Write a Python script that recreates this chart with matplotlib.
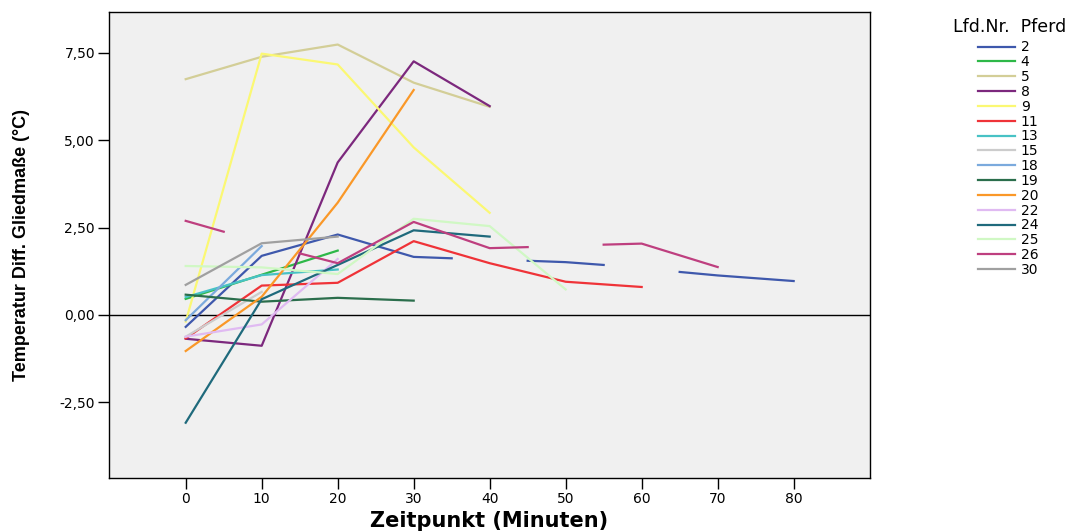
import matplotlib
matplotlib.use("Agg")
import matplotlib.pyplot as plt
import numpy as np

nan = np.nan

# Temperaturdifferenz je Pferd über die Zeit (Lücken = fehlende Messung)
horses = ["2", "4", "5", "8", "9", "11", "13", "15", "18", "19", "20", "22", "24", "25", "26", "30"]

times_2 = [0, 10, 20, 30, 35, 40, 45, 50, 55, 60, 65, 70, 80]
temp_2 = [-0.34, 1.69, 2.30, 1.66, 1.62, nan, 1.55, 1.51, 1.43, nan, 1.23, 1.13, 0.97]
times_4 = [0, 10, 20]
temp_4 = [0.46, 1.15, 1.84]
times_5 = [0, 10, 20, 30, 40]
temp_5 = [6.74, 7.38, 7.73, 6.64, 5.95]
times_8 = [0, 10, 20, 30, 40]
temp_8 = [-0.68, -0.88, 4.36, 7.25, 5.97]
times_9 = [0, 10, 20, 30, 40]
temp_9 = [-0.19, 7.47, 7.16, 4.79, 2.92]
times_11 = [0, 10, 20, 30, 40, 50, 60]
temp_11 = [-0.67, 0.84, 0.92, 2.11, 1.48, 0.95, 0.80]
times_13 = [0, 10, 20]
temp_13 = [0.51, 1.14, 1.30]
times_15 = [0, 10]
temp_15 = [-0.62, 0.66]
times_18 = [0, 10]
temp_18 = [-0.15, 1.97]
times_19 = [0, 10, 20, 30]
temp_19 = [0.58, 0.38, 0.49, 0.41]
times_20 = [0, 10, 20, 30]
temp_20 = [-1.03, 0.52, 3.21, 6.43]
times_22 = [0, 10, 20]
temp_22 = [-0.62, -0.27, 1.60]
times_24 = [0, 10, 20, 30, 40]
temp_24 = [-3.08, 0.45, 1.43, 2.42, 2.24]
times_25 = [0, 10, 20, 30, 40, 50]
temp_25 = [1.40, 1.36, 1.17, 2.75, 2.54, 0.73]
times_26 = [0, 5, 10, 15, 20, 30, 40, 45, 50, 55, 60, 70]
temp_26 = [2.69, 2.38, nan, 1.76, 1.48, 2.66, 1.91, 1.94, nan, 2.01, 2.04, 1.37]
times_30 = [0, 10, 20]
temp_30 = [0.86, 2.05, 2.24]

x_ticks = [0, 10, 20, 30, 40, 50, 60, 70, 80]
y_ticks = [-2.5, 0.0, 2.5, 5.0, 7.5]

colors = ["#3E58AC", "#2EB848", "#D3CE97", "#7C287D", "#FBF873", "#EF3338",
          "#48C2C5", "#CCCCCC", "#7BAADD", "#2B6E4C", "#FA9828", "#E0BAF2",
          "#1F6A7C", "#D0F8C4", "#BE3F7F", "#A0A0A0"]

series = [(times_2, temp_2), (times_4, temp_4), (times_5, temp_5), (times_8, temp_8),
          (times_9, temp_9), (times_11, temp_11), (times_13, temp_13), (times_15, temp_15),
          (times_18, temp_18), (times_19, temp_19), (times_20, temp_20), (times_22, temp_22),
          (times_24, temp_24), (times_25, temp_25), (times_26, temp_26), (times_30, temp_30)]

plt.rcParams['font.family'] = ['DejaVu Sans']

fig = plt.figure(figsize=(10.83, 5.31), dpi=100)
ax = fig.add_axes([0.1006, 0.0998, 0.7024, 0.8776])
ax.set_facecolor("#F0F0F0")

ax.axhline(0, color="black", linewidth=1.0, zorder=1)

for name, (t, v), c in zip(horses, series, colors):
    ax.plot(t, v, color=c, linewidth=1.6, label=name, zorder=2)

ax.set_xlim(-10.1, 90.0)
ax.set_ylim(-4.66, 8.66)
ax.set_xticks(x_ticks)
ax.set_xticklabels([str(x) for x in x_ticks])
ax.set_yticks(y_ticks)
ax.set_yticklabels([f"{y:.2f}".replace(".", ",") for y in y_ticks])
ax.tick_params(axis="both", direction="out", length=8, width=1.0, labelsize=10, pad=2)

for side in ["left", "right", "top", "bottom"]:
    ax.spines[side].set_linewidth(1.0)

ax.set_xlabel("Zeitpunkt (Minuten)", fontsize=15, fontweight="bold")
ax.xaxis.set_label_coords(0.5, -0.07)
ax.set_ylabel("Temperatur Diff. Gliedmaße (°C)", fontsize=13, fontweight="bold",
              family=['Liberation Sans'])
ax.yaxis.set_label_coords(-0.115, 0.5)
ax.yaxis.label.set_va("center")

# Legende: Titel separat, Einträge darunter
fig.text(1010 / 1083, 1 - 27 / 531, "Lfd.Nr.  Pferd", fontsize=12.5, ha="center", va="center")
ax.legend(loc="upper left", bbox_to_anchor=(1.1346, 0.951), frameon=False,
          fontsize=10, handlelength=2.7, handletextpad=0.4, labelspacing=0.06,
          borderaxespad=0.0)

fig.savefig("out.png", dpi=100)
